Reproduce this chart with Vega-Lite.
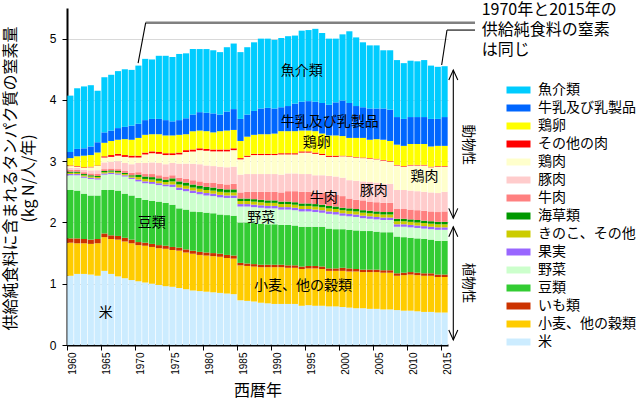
{
  "$schema": "https://vega.github.io/schema/vega-lite/v6.json",
  "width": 381,
  "height": 337,
  "autosize": {"type": "none"},
  "padding": {"left": 67, "top": 8, "right": 190, "bottom": 54},
  "background": "white",
  "config": {"view": {"stroke": null}, "font": "Noto Sans CJK JP"},
  "datasets": {
    "cats": [
      {"f": "a", "cat": "米", "ord": 0},
      {"f": "b", "cat": "小麦、他の穀類", "ord": 1},
      {"f": "c", "cat": "いも類", "ord": 2},
      {"f": "d", "cat": "豆類", "ord": 3},
      {"f": "e", "cat": "野菜", "ord": 4},
      {"f": "f", "cat": "果実", "ord": 5},
      {"f": "g", "cat": "きのこ、その他", "ord": 6},
      {"f": "h", "cat": "海草類", "ord": 7},
      {"f": "i", "cat": "牛肉", "ord": 8},
      {"f": "j", "cat": "豚肉", "ord": 9},
      {"f": "k", "cat": "鶏肉", "ord": 10},
      {"f": "l", "cat": "その他の肉", "ord": 11},
      {"f": "m", "cat": "鶏卵", "ord": 12},
      {"f": "n", "cat": "牛乳及び乳製品", "ord": 13},
      {"f": "o", "cat": "魚介類", "ord": 14}
    ],
    "food": [
      {"yr":1960,"a":1.13,"b":0.54,"c":0.07,"d":0.79,"e":0.24,"f":0.02,"g":0.02,"h":0.02,"i":0.03,"j":0.03,"k":0.03,"l":0.01,"m":0.12,"n":0.10,"o":0.92},
      {"yr":1961,"a":1.16,"b":0.50,"c":0.08,"d":0.78,"e":0.25,"f":0.02,"g":0.02,"h":0.02,"i":0.03,"j":0.03,"k":0.02,"l":0.01,"m":0.16,"n":0.12,"o":0.99},
      {"yr":1962,"a":1.16,"b":0.50,"c":0.07,"d":0.74,"e":0.26,"f":0.02,"g":0.02,"h":0.02,"i":0.03,"j":0.04,"k":0.03,"l":0.01,"m":0.19,"n":0.12,"o":1.01},
      {"yr":1963,"a":1.15,"b":0.50,"c":0.07,"d":0.72,"e":0.27,"f":0.02,"g":0.02,"h":0.02,"i":0.03,"j":0.05,"k":0.05,"l":0.01,"m":0.19,"n":0.14,"o":1.00},
      {"yr":1964,"a":1.13,"b":0.53,"c":0.07,"d":0.71,"e":0.26,"f":0.02,"g":0.02,"h":0.02,"i":0.03,"j":0.06,"k":0.07,"l":0.01,"m":0.21,"n":0.17,"o":0.84},
      {"yr":1965,"a":1.21,"b":0.55,"c":0.06,"d":0.71,"e":0.25,"f":0.02,"g":0.02,"h":0.02,"i":0.03,"j":0.11,"k":0.08,"l":0.02,"m":0.22,"n":0.17,"o":0.90},
      {"yr":1966,"a":1.16,"b":0.57,"c":0.06,"d":0.74,"e":0.26,"f":0.02,"g":0.02,"h":0.02,"i":0.03,"j":0.11,"k":0.08,"l":0.03,"m":0.23,"n":0.17,"o":0.91},
      {"yr":1967,"a":1.12,"b":0.60,"c":0.06,"d":0.74,"e":0.26,"f":0.02,"g":0.02,"h":0.02,"i":0.03,"j":0.13,"k":0.09,"l":0.03,"m":0.23,"n":0.19,"o":0.93},
      {"yr":1968,"a":1.09,"b":0.60,"c":0.06,"d":0.72,"e":0.28,"f":0.02,"g":0.02,"h":0.02,"i":0.03,"j":0.13,"k":0.10,"l":0.03,"m":0.26,"n":0.20,"o":0.94},
      {"yr":1969,"a":1.06,"b":0.60,"c":0.06,"d":0.72,"e":0.27,"f":0.02,"g":0.02,"h":0.02,"i":0.04,"j":0.14,"k":0.11,"l":0.03,"m":0.26,"n":0.23,"o":0.91},
      {"yr":1970,"a":1.04,"b":0.59,"c":0.05,"d":0.72,"e":0.27,"f":0.03,"g":0.04,"h":0.04,"i":0.04,"j":0.15,"k":0.09,"l":0.03,"m":0.29,"n":0.23,"o":0.95},
      {"yr":1971,"a":1.02,"b":0.60,"c":0.05,"d":0.70,"e":0.27,"f":0.03,"g":0.04,"h":0.04,"i":0.04,"j":0.18,"k":0.14,"l":0.03,"m":0.29,"n":0.24,"o":1.00},
      {"yr":1972,"a":1.00,"b":0.60,"c":0.05,"d":0.70,"e":0.28,"f":0.03,"g":0.04,"h":0.04,"i":0.05,"j":0.19,"k":0.15,"l":0.03,"m":0.28,"n":0.25,"o":0.97},
      {"yr":1973,"a":0.98,"b":0.60,"c":0.05,"d":0.71,"e":0.27,"f":0.03,"g":0.04,"h":0.04,"i":0.05,"j":0.20,"k":0.15,"l":0.03,"m":0.29,"n":0.25,"o":1.03},
      {"yr":1974,"a":0.96,"b":0.61,"c":0.05,"d":0.70,"e":0.27,"f":0.03,"g":0.04,"h":0.04,"i":0.05,"j":0.20,"k":0.15,"l":0.03,"m":0.29,"n":0.25,"o":1.05},
      {"yr":1975,"a":0.95,"b":0.60,"c":0.05,"d":0.69,"e":0.29,"f":0.04,"g":0.05,"h":0.05,"i":0.05,"j":0.20,"k":0.13,"l":0.03,"m":0.29,"n":0.23,"o":1.05},
      {"yr":1976,"a":0.93,"b":0.61,"c":0.05,"d":0.64,"e":0.30,"f":0.04,"g":0.05,"h":0.05,"i":0.06,"j":0.23,"k":0.15,"l":0.03,"m":0.29,"n":0.24,"o":1.08},
      {"yr":1977,"a":0.91,"b":0.60,"c":0.05,"d":0.65,"e":0.30,"f":0.04,"g":0.05,"h":0.05,"i":0.06,"j":0.25,"k":0.19,"l":0.03,"m":0.26,"n":0.26,"o":1.06},
      {"yr":1978,"a":0.89,"b":0.60,"c":0.05,"d":0.64,"e":0.30,"f":0.04,"g":0.05,"h":0.05,"i":0.07,"j":0.27,"k":0.20,"l":0.03,"m":0.30,"n":0.27,"o":1.07},
      {"yr":1979,"a":0.88,"b":0.59,"c":0.05,"d":0.65,"e":0.29,"f":0.04,"g":0.05,"h":0.05,"i":0.07,"j":0.28,"k":0.23,"l":0.03,"m":0.29,"n":0.30,"o":1.03},
      {"yr":1980,"a":0.87,"b":0.59,"c":0.05,"d":0.65,"e":0.28,"f":0.04,"g":0.05,"h":0.05,"i":0.07,"j":0.28,"k":0.24,"l":0.03,"m":0.29,"n":0.30,"o":1.04},
      {"yr":1981,"a":0.86,"b":0.59,"c":0.05,"d":0.65,"e":0.28,"f":0.04,"g":0.05,"h":0.05,"i":0.08,"j":0.27,"k":0.24,"l":0.03,"m":0.28,"n":0.31,"o":1.03},
      {"yr":1982,"a":0.85,"b":0.59,"c":0.05,"d":0.64,"e":0.28,"f":0.04,"g":0.05,"h":0.05,"i":0.08,"j":0.28,"k":0.25,"l":0.03,"m":0.30,"n":0.27,"o":1.02},
      {"yr":1983,"a":0.84,"b":0.58,"c":0.05,"d":0.65,"e":0.28,"f":0.04,"g":0.05,"h":0.05,"i":0.08,"j":0.28,"k":0.26,"l":0.03,"m":0.31,"n":0.31,"o":1.05},
      {"yr":1984,"a":0.83,"b":0.58,"c":0.05,"d":0.65,"e":0.29,"f":0.04,"g":0.05,"h":0.05,"i":0.09,"j":0.28,"k":0.27,"l":0.03,"m":0.30,"n":0.34,"o":1.07},
      {"yr":1985,"a":0.73,"b":0.57,"c":0.04,"d":0.66,"e":0.26,"f":0.04,"g":0.05,"h":0.04,"i":0.10,"j":0.29,"k":0.25,"l":0.02,"m":0.28,"n":0.36,"o":1.09},
      {"yr":1986,"a":0.72,"b":0.57,"c":0.04,"d":0.67,"e":0.26,"f":0.04,"g":0.05,"h":0.04,"i":0.11,"j":0.29,"k":0.28,"l":0.02,"m":0.31,"n":0.36,"o":1.10},
      {"yr":1987,"a":0.71,"b":0.57,"c":0.04,"d":0.67,"e":0.26,"f":0.04,"g":0.05,"h":0.04,"i":0.12,"j":0.29,"k":0.31,"l":0.02,"m":0.31,"n":0.39,"o":1.12},
      {"yr":1988,"a":0.69,"b":0.58,"c":0.04,"d":0.67,"e":0.26,"f":0.04,"g":0.05,"h":0.04,"i":0.13,"j":0.29,"k":0.31,"l":0.02,"m":0.32,"n":0.42,"o":1.14},
      {"yr":1989,"a":0.68,"b":0.59,"c":0.04,"d":0.66,"e":0.26,"f":0.04,"g":0.05,"h":0.04,"i":0.14,"j":0.29,"k":0.31,"l":0.02,"m":0.32,"n":0.43,"o":1.13},
      {"yr":1990,"a":0.67,"b":0.60,"c":0.04,"d":0.66,"e":0.26,"f":0.04,"g":0.05,"h":0.04,"i":0.14,"j":0.29,"k":0.31,"l":0.02,"m":0.33,"n":0.41,"o":1.12},
      {"yr":1991,"a":0.67,"b":0.60,"c":0.04,"d":0.65,"e":0.25,"f":0.04,"g":0.05,"h":0.04,"i":0.15,"j":0.29,"k":0.33,"l":0.02,"m":0.36,"n":0.39,"o":1.13},
      {"yr":1992,"a":0.67,"b":0.59,"c":0.04,"d":0.66,"e":0.25,"f":0.04,"g":0.05,"h":0.04,"i":0.17,"j":0.29,"k":0.31,"l":0.02,"m":0.36,"n":0.41,"o":1.14},
      {"yr":1993,"a":0.67,"b":0.59,"c":0.04,"d":0.65,"e":0.25,"f":0.04,"g":0.05,"h":0.04,"i":0.18,"j":0.29,"k":0.31,"l":0.02,"m":0.36,"n":0.45,"o":1.11},
      {"yr":1994,"a":0.64,"b":0.60,"c":0.04,"d":0.65,"e":0.25,"f":0.04,"g":0.05,"h":0.04,"i":0.19,"j":0.29,"k":0.35,"l":0.02,"m":0.34,"n":0.47,"o":1.16},
      {"yr":1995,"a":0.65,"b":0.60,"c":0.04,"d":0.64,"e":0.25,"f":0.04,"g":0.05,"h":0.04,"i":0.19,"j":0.29,"k":0.35,"l":0.02,"m":0.34,"n":0.48,"o":1.16},
      {"yr":1996,"a":0.64,"b":0.61,"c":0.04,"d":0.64,"e":0.24,"f":0.04,"g":0.05,"h":0.04,"i":0.18,"j":0.29,"k":0.35,"l":0.02,"m":0.35,"n":0.48,"o":1.19},
      {"yr":1997,"a":0.64,"b":0.60,"c":0.04,"d":0.65,"e":0.23,"f":0.04,"g":0.05,"h":0.04,"i":0.19,"j":0.29,"k":0.33,"l":0.02,"m":0.33,"n":0.50,"o":1.14},
      {"yr":1998,"a":0.63,"b":0.58,"c":0.04,"d":0.65,"e":0.24,"f":0.04,"g":0.05,"h":0.04,"i":0.19,"j":0.30,"k":0.31,"l":0.02,"m":0.33,"n":0.50,"o":1.08},
      {"yr":1999,"a":0.63,"b":0.58,"c":0.04,"d":0.64,"e":0.24,"f":0.04,"g":0.05,"h":0.04,"i":0.19,"j":0.30,"k":0.32,"l":0.02,"m":0.33,"n":0.54,"o":1.04},
      {"yr":2000,"a":0.62,"b":0.59,"c":0.05,"d":0.63,"e":0.22,"f":0.04,"g":0.05,"h":0.04,"i":0.19,"j":0.30,"k":0.35,"l":0.01,"m":0.32,"n":0.58,"o":1.08},
      {"yr":2001,"a":0.61,"b":0.59,"c":0.05,"d":0.63,"e":0.22,"f":0.04,"g":0.05,"h":0.04,"i":0.16,"j":0.30,"k":0.38,"l":0.01,"m":0.30,"n":0.57,"o":1.17},
      {"yr":2002,"a":0.60,"b":0.60,"c":0.04,"d":0.63,"e":0.22,"f":0.04,"g":0.05,"h":0.04,"i":0.15,"j":0.31,"k":0.38,"l":0.01,"m":0.31,"n":0.52,"o":1.12},
      {"yr":2003,"a":0.60,"b":0.59,"c":0.04,"d":0.63,"e":0.21,"f":0.04,"g":0.05,"h":0.04,"i":0.16,"j":0.31,"k":0.38,"l":0.01,"m":0.32,"n":0.50,"o":1.06},
      {"yr":2004,"a":0.59,"b":0.60,"c":0.04,"d":0.63,"e":0.20,"f":0.04,"g":0.05,"h":0.04,"i":0.15,"j":0.32,"k":0.38,"l":0.01,"m":0.30,"n":0.51,"o":1.03},
      {"yr":2005,"a":0.59,"b":0.60,"c":0.04,"d":0.62,"e":0.20,"f":0.04,"g":0.05,"h":0.04,"i":0.15,"j":0.32,"k":0.38,"l":0.01,"m":0.32,"n":0.50,"o":1.03},
      {"yr":2006,"a":0.58,"b":0.60,"c":0.04,"d":0.62,"e":0.20,"f":0.04,"g":0.05,"h":0.04,"i":0.15,"j":0.31,"k":0.38,"l":0.01,"m":0.33,"n":0.51,"o":0.95},
      {"yr":2007,"a":0.58,"b":0.60,"c":0.04,"d":0.62,"e":0.20,"f":0.04,"g":0.05,"h":0.04,"i":0.15,"j":0.31,"k":0.36,"l":0.01,"m":0.33,"n":0.51,"o":0.97},
      {"yr":2008,"a":0.57,"b":0.56,"c":0.04,"d":0.60,"e":0.16,"f":0.04,"g":0.05,"h":0.04,"i":0.16,"j":0.31,"k":0.40,"l":0.01,"m":0.33,"n":0.45,"o":0.93},
      {"yr":2009,"a":0.56,"b":0.58,"c":0.04,"d":0.58,"e":0.17,"f":0.04,"g":0.05,"h":0.04,"i":0.16,"j":0.31,"k":0.38,"l":0.01,"m":0.33,"n":0.44,"o":0.91},
      {"yr":2010,"a":0.56,"b":0.59,"c":0.04,"d":0.56,"e":0.17,"f":0.04,"g":0.05,"h":0.04,"i":0.16,"j":0.31,"k":0.41,"l":0.01,"m":0.34,"n":0.44,"o":0.92},
      {"yr":2011,"a":0.55,"b":0.59,"c":0.04,"d":0.56,"e":0.17,"f":0.04,"g":0.05,"h":0.04,"i":0.16,"j":0.31,"k":0.42,"l":0.01,"m":0.34,"n":0.44,"o":0.91},
      {"yr":2012,"a":0.54,"b":0.59,"c":0.04,"d":0.56,"e":0.17,"f":0.04,"g":0.05,"h":0.04,"i":0.16,"j":0.31,"k":0.43,"l":0.01,"m":0.34,"n":0.44,"o":0.93},
      {"yr":2013,"a":0.54,"b":0.59,"c":0.04,"d":0.55,"e":0.17,"f":0.04,"g":0.05,"h":0.04,"i":0.16,"j":0.31,"k":0.41,"l":0.01,"m":0.33,"n":0.45,"o":0.87},
      {"yr":2014,"a":0.53,"b":0.58,"c":0.04,"d":0.55,"e":0.18,"f":0.04,"g":0.05,"h":0.04,"i":0.16,"j":0.31,"k":0.43,"l":0.01,"m":0.33,"n":0.44,"o":0.85},
      {"yr":2015,"a":0.53,"b":0.58,"c":0.04,"d":0.55,"e":0.18,"f":0.04,"g":0.05,"h":0.04,"i":0.17,"j":0.32,"k":0.41,"l":0.01,"m":0.33,"n":0.47,"o":0.83}
    ],
    "labels": [
      {"yr": 1994.0, "val": 4.477, "t": "魚介類"},
      {"yr": 1998.13, "val": 3.635, "t": "牛乳及び乳製品"},
      {"yr": 1996.2, "val": 3.292, "t": "鶏卵"},
      {"yr": 2012.05, "val": 2.747, "t": "鶏肉"},
      {"yr": 2004.6, "val": 2.513, "t": "豚肉"},
      {"yr": 1997.25, "val": 2.394, "t": "牛肉"},
      {"yr": 1988.06, "val": 2.068, "t": "野菜"},
      {"yr": 1971.95, "val": 1.986, "t": "豆類"},
      {"yr": 1994.19, "val": 0.963, "t": "小麦、他の穀類"},
      {"yr": 1965.2, "val": 0.527, "t": "米"}
    ],
    "note": [
      {"yr": 2020.45, "val": 5.59, "t": ["1970年と2015年の", "供給純食料の窒素", "は同じ"]}
    ],
    "side": [
      {"yr": 2018.47, "val": 3.27, "t": "動物性"},
      {"yr": 2018.47, "val": 1.01, "t": "植物性"}
    ],
    "greyline": [
      {"yr": 1971.07, "val": 5.26, "yr2": 2019.47, "val2": 5.26}
    ],
    "blacklines": [
      {"yr": 1969.95, "val": 4.60, "yr2": 1971.07, "val2": 5.26},
      {"yr": 2014.57, "val": 4.57, "yr2": 2015.35, "val2": 5.14},
      {"yr": 2015.35, "val": 5.14, "yr2": 2019.47, "val2": 5.14},
      {"yr": 2016.28, "val": 4.488, "yr2": 2016.28, "val2": 2.068},
      {"yr": 2016.28, "val": 1.931, "yr2": 2016.28, "val2": 0.082}
    ],
    "upheads": [
      {"yr": 2016.28, "val": 4.407},
      {"yr": 2016.28, "val": 1.849}
    ],
    "downheads": [
      {"yr": 2016.28, "val": 2.149},
      {"yr": 2016.28, "val": 0.163}
    ]
  },
  "layer": [
    {
      "data": {"name": "food"},
      "transform": [
        {"fold": ["a","b","c","d","e","f","g","h","i","j","k","l","m","n","o"], "as": ["f", "v"]},
        {"lookup": "f", "from": {"data": {"name": "cats"}, "key": "f", "fields": ["cat", "ord"]}}
      ],
      "mark": {"type": "bar"},
      "encoding": {
        "x": {
          "field": "yr", "type": "ordinal",
          "scale": {"paddingInner": 0.1, "paddingOuter": 0.05},
          "axis": {
            "values": [1960,1965,1970,1975,1980,1985,1990,1995,2000,2005,2010,2015],
            "bandPosition": 0, "labelOffset": 3.06,
            "labelAngle": -90, "labelFont": "Liberation Sans", "labelFontSize": 10, "labelColor": "black", "labelPadding": 2,
            "tickSize": 5, "tickColor": "black", "tickWidth": 1,
            "domainColor": "black", "domainWidth": 2, "grid": false,
            "title": "西暦年", "titleFont": "Noto Sans CJK JP", "titleFontSize": 16, "titleFontWeight": "normal", "titleColor": "black",
            "titleY": 45, "titleBaseline": "middle"
          }
        },
        "y": {
          "field": "v", "type": "quantitative", "stack": "zero",
          "scale": {"domain": [0, 5.5], "nice": false, "zero": true},
          "axis": {
            "title": ["供給純食料に含まれるタンパク質の窒素量", "(kg N/人/年)"],
            "titleFont": "Noto Sans CJK JP", "titleFontSize": 16, "titleFontWeight": "normal", "titleColor": "black",
            "titleAngle": -90, "titleBaseline": "top", "titleAlign": "center", "titleX": -65, "titleY": 170, "titleLineHeight": 18,
            "values": [0,0.5,1,1.5,2,2.5,3,3.5,4,4.5,5,5.5],
            "labelExpr": "datum.value % 1 === 0 ? format(datum.value, 'd') : ''",
            "labelFont": "Liberation Sans", "labelFontSize": 12, "labelColor": "black", "labelPadding": 6,
            "tickSize": 5, "tickColor": "black", "tickWidth": 1,
            "domainColor": "black", "domainWidth": 2,
            "grid": true, "gridColor": "#D9D9D9", "gridWidth": 1,
            "gridOpacity": {"condition": {"test": "datum.value % 1 !== 0 || datum.value === 0", "value": 0}, "value": 1}
          }
        },
        "color": {
          "field": "cat", "type": "nominal",
          "scale": {
            "domain": ["魚介類","牛乳及び乳製品","鶏卵","その他の肉","鶏肉","豚肉","牛肉","海草類","きのこ、その他","果実","野菜","豆類","いも類","小麦、他の穀類","米"],
            "range": ["#00CCFF","#0066FF","#FFFF00","#FF0000","#FFFFCC","#FFCCCC","#FF8080","#009900","#CCCC00","#9966FF","#CCFFCC","#33CC33","#CC3300","#FFCC00","#CCECFF"]
          },
          "legend": {
            "orient": "none", "legendX": 444.5, "legendY": 75, "title": null,
            "symbolType": "M-3,-0.875L3,-0.875L3,0.875L-3,0.875Z", "symbolSize": 64, "symbolStrokeWidth": 0, "symbolOpacity": 1,
            "labelFont": "Noto Sans CJK JP", "labelFontSize": 14, "labelColor": "black", "labelOffset": 12.5, "rowPadding": 4, "labelLimit": 200
          }
        },
        "order": {"field": "ord", "type": "quantitative", "sort": "ascending"}
      }
    },
    {
      "data": {"name": "greyline"},
      "mark": {"type": "rule", "color": "#808080", "strokeWidth": 2.5},
      "encoding": {
        "x": {"field": "yr", "type": "quantitative", "scale": {"domain": [1959.5, 2015.5], "nice": false, "zero": false}, "axis": null},
        "x2": {"field": "yr2"},
        "y": {"field": "val", "type": "quantitative", "scale": {"domain": [0, 5.5], "nice": false}},
        "y2": {"field": "val2"}
      }
    },
    {
      "data": {"name": "blacklines"},
      "mark": {"type": "rule", "color": "black", "strokeWidth": 1.1},
      "encoding": {
        "x": {"field": "yr", "type": "quantitative", "scale": {"domain": [1959.5, 2015.5], "nice": false, "zero": false}, "axis": null},
        "x2": {"field": "yr2"},
        "y": {"field": "val", "type": "quantitative", "scale": {"domain": [0, 5.5], "nice": false}},
        "y2": {"field": "val2"}
      }
    },
    {
      "data": {"name": "upheads"},
      "mark": {"type": "point", "shape": "M-1,1.1L0,-1.1L1,1.1", "size": 81, "filled": false, "stroke": "black", "strokeWidth": 1.1, "opacity": 1},
      "encoding": {
        "x": {"field": "yr", "type": "quantitative", "scale": {"domain": [1959.5, 2015.5], "nice": false, "zero": false}, "axis": null},
        "y": {"field": "val", "type": "quantitative", "scale": {"domain": [0, 5.5], "nice": false}}
      }
    },
    {
      "data": {"name": "downheads"},
      "mark": {"type": "point", "shape": "M-1,-1.1L0,1.1L1,-1.1", "size": 81, "filled": false, "stroke": "black", "strokeWidth": 1.1, "opacity": 1},
      "encoding": {
        "x": {"field": "yr", "type": "quantitative", "scale": {"domain": [1959.5, 2015.5], "nice": false, "zero": false}, "axis": null},
        "y": {"field": "val", "type": "quantitative", "scale": {"domain": [0, 5.5], "nice": false}}
      }
    },
    {
      "data": {"name": "labels"},
      "mark": {"type": "text", "font": "Noto Sans CJK JP", "fontSize": 14, "color": "black", "align": "center", "baseline": "middle"},
      "encoding": {
        "x": {"field": "yr", "type": "quantitative", "scale": {"domain": [1959.5, 2015.5], "nice": false, "zero": false}, "axis": null},
        "y": {"field": "val", "type": "quantitative", "scale": {"domain": [0, 5.5], "nice": false}},
        "text": {"field": "t"}
      }
    },
    {
      "data": {"name": "note"},
      "mark": {"type": "text", "font": "Noto Sans CJK JP", "fontSize": 16, "color": "black", "align": "left", "baseline": "top", "lineHeight": 19.6},
      "encoding": {
        "x": {"field": "yr", "type": "quantitative", "scale": {"domain": [1959.5, 2015.5], "nice": false, "zero": false}, "axis": null},
        "y": {"field": "val", "type": "quantitative", "scale": {"domain": [0, 5.5], "nice": false}},
        "text": {"field": "t"}
      }
    },
    {
      "data": {"name": "side"},
      "mark": {"type": "text", "font": "Noto Sans CJK JP", "fontSize": 13.5, "color": "black", "align": "center", "baseline": "middle", "angle": 90},
      "encoding": {
        "x": {"field": "yr", "type": "quantitative", "scale": {"domain": [1959.5, 2015.5], "nice": false, "zero": false}, "axis": null},
        "y": {"field": "val", "type": "quantitative", "scale": {"domain": [0, 5.5], "nice": false}},
        "text": {"field": "t"}
      }
    }
  ],
  "resolve": {"scale": {"x": "independent"}}
}
